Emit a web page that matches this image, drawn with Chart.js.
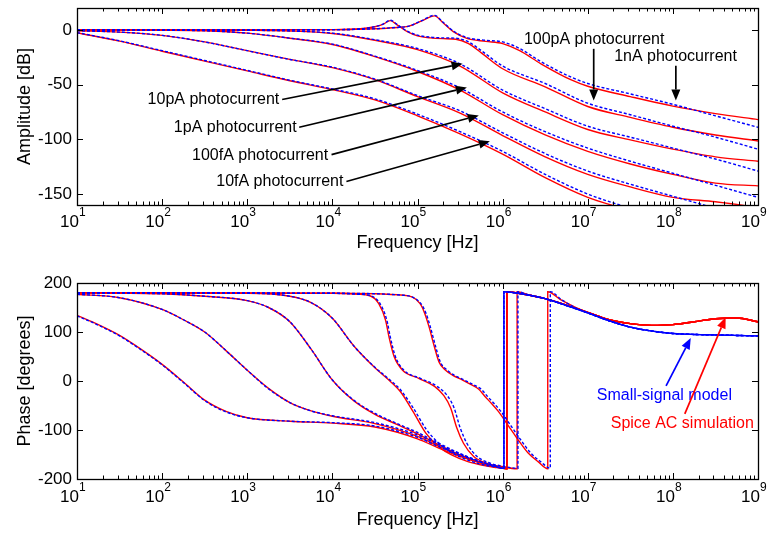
<!DOCTYPE html>
<html>
<head>
<meta charset="utf-8">
<script src="https://cdn.jsdelivr.net/npm/chart.js@4.4.1/dist/chart.umd.min.js"></script>
<style>
  html, body { margin: 0; padding: 0; background: #fff; }
  #wrap { position: relative; width: 772px; height: 534px; overflow: hidden; }
  #wrap canvas { position: absolute; left: 0; }
  #ampCanvas { top: 0; }
  #phaseCanvas { top: 262px; }
</style>
</head>
<body>
<div id="wrap">
  <canvas id="ampCanvas" width="772" height="262"></canvas>
  <canvas id="phaseCanvas" width="772" height="272"></canvas>
</div>
<script>
const FONT = '"Liberation Sans", Arial, Helvetica, sans-serif';
const RED = '#ff0000';
const BLUE = '#0000ff';

// frequency decades (exponents of 10) used for the x tick labels
const decades = [1, 2, 3, 4, 5, 6, 7, 8, 9];
const ampTicks = [0, -50, -100, -150];
const phaseTicks = [200, 100, 0, -100, -200];

// ---------------- amplitude [dB] ----------------
// frequencies are given as log10(Hz)
const hzLow = [1, 1.5, 2, 2.5, 3, 3.5, 4, 4.5, 5, 5.5, 6, 6.5, 7, 7.5, 8, 8.5, 9];

const amp10fA_model = [-2.5, -10, -19, -28, -37, -46, -54, -63, -77, -93, -111, -132, -150, -163, -175, -186, -197];
const amp10fA_spice = [-2.6, -10.3, -19.5, -28.5, -37.5, -46.5, -54.5, -64, -78.5, -95, -113.5, -135, -153, -165, -176, -185, -193];
const amp100fA_model = [-0.8, -2, -5, -11, -19, -27, -34, -45, -60, -74, -94, -113, -129, -141, -152, -163, -174];
const amp100fA_spice = [-0.8, -2, -5, -11, -19, -27, -34.5, -45.5, -61, -76, -96.5, -116, -132, -143.5, -153, -157, -162];
const amp1pA_model = [0, 0, -0.2, -0.8, -3, -7.5, -13, -24, -37, -53, -75, -93, -108, -120, -131, -142, -153];
const amp1pA_spice = [0, 0, -0.2, -0.8, -3, -7.6, -13.4, -24.5, -38, -55, -77.5, -96, -111, -122.5, -132, -140, -142.5];
const amp10pA_model = [0, 0, 0, -0.1, -0.3, -1, -3, -9, -17, -31, -55, -72, -88, -98, -108, -118, -129];
const amp10pA_spice = [0, 0, 0, -0.1, -0.3, -1, -3.3, -9.5, -18, -33, -57.5, -75, -91, -100.5, -109, -116, -120];

const hz100pA = [1, 3, 4, 4.3, 4.5, 4.6, 4.68, 4.76, 4.88, 5.0, 5.15, 5.3, 5.45, 5.6, 5.75, 6.0, 6.5, 7, 7.5, 8, 8.5, 9];
const amp100pA_model = [0, 0, 0.2, 0.8, 3, 5.5, 8.8, 5, -1.2, -4.8, -6.6, -7.3, -7.6, -11, -19, -33, -49, -67, -77.5, -88, -98, -109];
const amp100pA_spice = [0, 0, 0.2, 0.8, 2.9, 5.3, 8.5, 4.6, -1.6, -5.4, -7.3, -8, -8.5, -12.5, -21, -35.5, -52, -70, -80, -89, -96, -101.5];

const hz1nA = [1, 2, 3, 4, 4.5, 4.7, 4.9, 5.05, 5.2, 5.3, 5.42, 5.58, 5.8, 6.0, 6.2, 6.45, 6.8, 7, 7.5, 8, 8.5, 9];
const amp1nA_model = [0, 0, 0, 0.2, 1, 2, 3.5, 8.5, 13.3, 7, -1, -7, -9.5, -11, -17, -29, -43, -49, -58.5, -68, -78.5, -89];
const amp1nA_spice = [0, 0, 0, 0.2, 1, 2, 3.4, 8.2, 12.8, 6.5, -1.6, -7.8, -10.5, -12.5, -19, -31, -45.5, -51.5, -61, -69.7, -76.5, -82];

// ---------------- phase [degrees] ----------------
// common high-frequency part after the phase wraps to +180
const phTailHz = [7, 7.25, 7.5, 7.75, 8, 8.25, 8.5, 8.75, 9];
const phTail_model = [139, 123, 110, 102, 97, 95, 94, 93, 92];
const phTail_spice = [140, 125, 117, 113.5, 115, 121, 127, 128.5, 121];

const ph10fA_hzModel = [1, 1.25, 1.5, 1.75, 2, 2.25, 2.5, 2.75, 3, 3.5, 4, 4.5, 5, 5.25, 5.5, 5.75, 5.9, 6.015, 6.015, 6.25, 6.5, 6.75];
const ph10fA_hzSpice = [1, 1.25, 1.5, 1.75, 2, 2.25, 2.5, 2.75, 3, 3.5, 4, 4.5, 5, 5.25, 5.5, 5.75, 5.9, 6.05, 6.05, 6.25, 6.5, 6.75];
const ph10fA_model = [133, 114, 92, 64, 33, -3, -40, -63, -75, -82, -85, -92, -115, -134, -151, -166, -173, -178, 182, 177, 168, 154];
const ph10fA_spice = [134, 115, 93, 65, 34, -2, -39, -62, -75, -82, -86, -94, -118, -137, -154, -168, -174, -179, 182, 177, 168, 155];

const ph100fA_hzModel = [1, 1.5, 2, 2.25, 2.5, 2.75, 3, 3.25, 3.5, 3.75, 4, 4.5, 5, 5.25, 5.5, 5.75, 5.9, 6.015, 6.015, 6.25, 6.5, 6.75];
const ph100fA_hzSpice = [1, 1.5, 2, 2.25, 2.5, 2.75, 3, 3.25, 3.5, 3.75, 4, 4.5, 5, 5.25, 5.5, 5.75, 5.9, 6.05, 6.05, 6.25, 6.5, 6.75];
const ph100fA_model = [177, 170, 146, 125, 100, 62, 22, -16, -44, -61, -71, -85, -110, -130, -149, -165, -173, -178, 182, 177, 168, 154];
const ph100fA_spice = [177, 170, 146, 125, 100, 62, 22, -15, -44, -61, -72, -87, -113, -133, -152, -167, -174, -179, 182, 177, 168, 155];

const ph1pA_hzModel = [1, 2, 2.5, 3, 3.25, 3.5, 3.75, 4, 4.25, 4.5, 4.75, 5, 5.25, 5.5, 5.75, 5.9, 6.015, 6.015, 6.25, 6.5, 6.75];
const ph1pA_hzSpice = [1, 2, 2.5, 3, 3.25, 3.5, 3.75, 4, 4.25, 4.5, 4.75, 5, 5.25, 5.5, 5.75, 5.9, 6.05, 6.05, 6.25, 6.5, 6.75];
const ph1pA_model = [180, 178, 173, 164, 150, 121, 65, 2, -39, -66, -86, -105, -127, -148, -165, -173, -178, 182, 177, 168, 154];
const ph1pA_spice = [180, 178, 173, 164, 150, 121, 65, 2, -40, -68, -88, -108, -130, -151, -167, -174, -179, 182, 177, 168, 155];

const ph10pA_hzModel = [1, 3, 3.5, 3.75, 4, 4.25, 4.5, 4.65, 4.8, 4.95, 5.1, 5.25, 5.4, 5.6, 5.8, 5.9, 6.015, 6.015, 6.25, 6.5, 6.75];
const ph10pA_hzSpice = [1, 3, 3.5, 3.75, 4, 4.25, 4.5, 4.65, 4.8, 4.95, 5.1, 5.25, 5.4, 5.6, 5.8, 5.9, 6.05, 6.05, 6.25, 6.5, 6.75];
const ph10pA_model = [180, 179, 173, 160, 128, 72, 28, 6, -18, -55, -98, -127, -146, -162, -172, -175, -178, 182, 177, 168, 154];
const ph10pA_spice = [180, 179, 173, 160, 128, 72, 27, 4, -22, -63, -107, -134, -151, -165, -173, -176, -179, 182, 177, 168, 155];

const ph100pA_hzModel = [1, 4, 4.3, 4.45, 4.56, 4.64, 4.68, 4.74, 4.84, 5.04, 5.23, 5.35, 5.43, 5.5, 5.58, 5.7, 5.86, 6.0, 6.18, 6.18, 6.3, 6.5, 6.75];
const ph100pA_hzSpice = [1, 4, 4.3, 4.44, 4.545, 4.625, 4.665, 4.725, 4.825, 5.02, 5.2, 5.31, 5.39, 5.46, 5.54, 5.66, 5.82, 6.0, 6.17, 6.17, 6.3, 6.5, 6.75];
const ph100pA_model = [180, 179, 177, 174, 158, 124, 90, 50, 22, 5, -11, -30, -55, -95, -127, -154, -168, -174, -178, 182, 176, 168, 154];
const ph100pA_spice = [180, 179, 177, 174, 158, 124, 90, 50, 22, 5, -11, -30, -55, -95, -127, -154, -168, -175, -179, 182, 176, 168, 155];

const ph1nA_hzModel = [1, 4, 4.84, 5.04, 5.1, 5.15, 5.21, 5.27, 5.35, 5.43, 5.55, 5.65, 5.75, 5.82, 5.9, 5.98, 6.1, 6.2, 6.33, 6.45, 6.56, 6.56, 6.7, 6.85];
const ph1nA_hzSpice = [1, 4, 4.84, 5.03, 5.085, 5.135, 5.195, 5.255, 5.33, 5.41, 5.53, 5.625, 5.72, 5.79, 5.87, 5.95, 6.07, 6.17, 6.3, 6.42, 6.53, 6.53, 6.68, 6.85];
const ph1nA_model = [180, 179, 175, 158, 138, 111, 72, 38, 22, 12, 2, -7, -17, -31, -46, -62, -92, -117, -147, -165, -178, 182, 165, 150];
const ph1nA_spice = [180, 179, 175, 158, 138, 111, 72, 38, 22, 12, 2, -7, -17, -31, -46, -62, -92, -117, -147, -165, -179, 182, 166, 151];

// ---------------- annotations (log10 Hz, axis value) ----------------
const ampNotes = [
  { text: '10pA photocurrent', pos: [3.376, -63.6], align: 'right', from: [3.41, -63.6], to: [5.53, -30.9] },
  { text: '1pA photocurrent', pos: [3.58, -89], align: 'right', from: [3.61, -89], to: [5.58, -52.7] },
  { text: '100fA photocurrent', pos: [3.95, -114.5], align: 'right', from: [3.99, -114], to: [5.72, -78.2] },
  { text: '10fA photocurrent', pos: [4.13, -139], align: 'right', from: [4.165, -138.5], to: [5.85, -101.8] },
  { text: '100pA photocurrent', pos: [6.25, -9.1], align: 'left', from: [7.07, -17.3], to: [7.07, -64.5] },
  { text: '1nA photocurrent', pos: [7.31, -24.5], align: 'left', from: [8.035, -32.7], to: [8.035, -64.5] }
];
const phaseNotes = [
  { text: 'Small-signal model', color: BLUE, pos: [7.106, -30.5], align: 'left', from: [7.92, -10], to: [8.21, 87.6] },
  { text: 'Spice AC simulation', color: RED, pos: [7.27, -87.6], align: 'left', from: [8.14, -67], to: [8.62, 130] }
];

function toPoints(hz, vals) {
  return hz.map((e, i) => ({ x: Math.pow(10, e), y: vals[i] }));
}

function curve(hz, vals, color) {
  return {
    data: toPoints(hz, vals),
    borderColor: color,
    borderWidth: 1.4,
    borderDash: color === BLUE ? [3, 2] : [],
    pointRadius: 0,
    fill: false,
    cubicInterpolationMode: 'monotone'
  };
}

function drawArrow(ctx, x1, y1, x2, y2, color) {
  const ang = Math.atan2(y2 - y1, x2 - x1);
  const hl = 11, hw = 4.5;
  const bx = x2 - hl * Math.cos(ang), by = y2 - hl * Math.sin(ang);
  ctx.strokeStyle = color;
  ctx.fillStyle = color;
  ctx.lineWidth = 1.7;
  ctx.beginPath();
  ctx.moveTo(x1, y1);
  ctx.lineTo(bx, by);
  ctx.stroke();
  ctx.beginPath();
  ctx.moveTo(x2, y2);
  ctx.lineTo(bx + hw * Math.sin(ang), by - hw * Math.cos(ang));
  ctx.lineTo(bx - hw * Math.sin(ang), by + hw * Math.cos(ang));
  ctx.closePath();
  ctx.fill();
}

// box, inward ticks, labels and notes drawn on top of the plot
function makeFrame(cfg) {
  return {
    id: 'frame',
    afterDraw(chart) {
      const { ctx, chartArea: a } = chart;
      const xs = chart.scales.x, ys = chart.scales.y;
      const X = e => xs.getPixelForValue(Math.pow(10, e));
      const Y = v => ys.getPixelForValue(v);
      ctx.save();
      ctx.strokeStyle = '#000';
      ctx.fillStyle = '#000';
      ctx.lineWidth = 1;

      ctx.beginPath();
      for (let d = 1; d <= 9; d++) {
        const last = d < 9 ? 9 : 1;
        for (let k = 1; k <= last; k++) {
          const px = Math.round(xs.getPixelForValue(k * Math.pow(10, d))) + 0.5;
          const len = k === 1 ? 6 : 3.5;
          ctx.moveTo(px, a.bottom); ctx.lineTo(px, a.bottom - len);
          ctx.moveTo(px, a.top); ctx.lineTo(px, a.top + len);
        }
      }
      cfg.yTicks.forEach(v => {
        const py = Math.round(Y(v)) + 0.5;
        ctx.moveTo(a.left, py); ctx.lineTo(a.left + 6, py);
        ctx.moveTo(a.right, py); ctx.lineTo(a.right - 6, py);
      });
      ctx.stroke();

      ctx.lineWidth = 1.3;
      ctx.strokeRect(Math.round(a.left) + 0.5, Math.round(a.top) + 0.5,
        Math.round(a.right - a.left), Math.round(a.bottom - a.top));

      ctx.textBaseline = 'middle';
      ctx.font = `17px ${FONT}`;
      ctx.textAlign = 'right';
      cfg.yTicks.forEach(v => ctx.fillText(String(v), a.left - 5, Y(v)));

      decades.forEach(d => {
        const px = X(d);
        ctx.font = `17px ${FONT}`;
        ctx.textAlign = 'right';
        ctx.fillText('10', px + 2, a.bottom + cfg.xLabelDy);
        ctx.font = `12px ${FONT}`;
        ctx.textAlign = 'left';
        ctx.fillText(String(d), px + 2, a.bottom + cfg.xLabelDy - 9);
      });

      ctx.font = `18px ${FONT}`;
      ctx.textAlign = 'center';
      ctx.fillText('Frequency [Hz]', (a.left + a.right) / 2, a.bottom + cfg.xTitleDy);
      ctx.save();
      ctx.translate(25, (a.top + a.bottom) / 2);
      ctx.rotate(-Math.PI / 2);
      ctx.fillText(cfg.yTitle, 0, 0);
      ctx.restore();

      cfg.notes.forEach(n => {
        const color = n.color || '#000';
        ctx.font = `16px ${FONT}`;
        ctx.fillStyle = color;
        ctx.textAlign = n.align;
        ctx.fillText(n.text, X(n.pos[0]), Y(n.pos[1]));
        drawArrow(ctx, X(n.from[0]), Y(n.from[1]), X(n.to[0]), Y(n.to[1]), color);
      });
      ctx.restore();
    }
  };
}

function makeChart(canvasId, datasets, yMin, yMax, padding, frameCfg) {
  return new Chart(document.getElementById(canvasId), {
    type: 'line',
    data: { datasets },
    options: {
      responsive: false,
      animation: false,
      events: [],
      layout: { padding, autoPadding: false },
      plugins: { legend: { display: false }, tooltip: { enabled: false } },
      scales: {
        x: { type: 'logarithmic', min: 10, max: 1e9, display: false },
        y: { type: 'linear', min: yMin, max: yMax, display: false }
      }
    },
    plugins: [makeFrame(frameCfg)]
  });
}

// model curves listed first so the dashed lines sit on top of the Spice ones
const ampSets = [
  curve(hz1nA, amp1nA_model, BLUE),
  curve(hz100pA, amp100pA_model, BLUE),
  curve(hzLow, amp10pA_model, BLUE),
  curve(hzLow, amp1pA_model, BLUE),
  curve(hzLow, amp100fA_model, BLUE),
  curve(hzLow, amp10fA_model, BLUE),
  curve(hz1nA, amp1nA_spice, RED),
  curve(hz100pA, amp100pA_spice, RED),
  curve(hzLow, amp10pA_spice, RED),
  curve(hzLow, amp1pA_spice, RED),
  curve(hzLow, amp100fA_spice, RED),
  curve(hzLow, amp10fA_spice, RED)
];

const withTail = (hz, vals, tail) => [hz.concat(phTailHz), vals.concat(tail)];
const phaseModel = [
  withTail(ph1nA_hzModel, ph1nA_model, phTail_model),
  withTail(ph100pA_hzModel, ph100pA_model, phTail_model),
  withTail(ph10pA_hzModel, ph10pA_model, phTail_model),
  withTail(ph1pA_hzModel, ph1pA_model, phTail_model),
  withTail(ph100fA_hzModel, ph100fA_model, phTail_model),
  withTail(ph10fA_hzModel, ph10fA_model, phTail_model)
];
const phaseSpice = [
  withTail(ph1nA_hzSpice, ph1nA_spice, phTail_spice),
  withTail(ph100pA_hzSpice, ph100pA_spice, phTail_spice),
  withTail(ph10pA_hzSpice, ph10pA_spice, phTail_spice),
  withTail(ph1pA_hzSpice, ph1pA_spice, phTail_spice),
  withTail(ph100fA_hzSpice, ph100fA_spice, phTail_spice),
  withTail(ph10fA_hzSpice, ph10fA_spice, phTail_spice)
];
const phaseSets = phaseModel.map(p => curve(p[0], p[1], BLUE))
  .concat(phaseSpice.map(p => curve(p[0], p[1], RED)));

makeChart('ampCanvas', ampSets, -160, 20,
  { left: 77, right: 14, top: 8, bottom: 57 },
  { yTicks: ampTicks, yTitle: 'Amplitude [dB]', notes: ampNotes, xLabelDy: 17, xTitleDy: 38 });

makeChart('phaseCanvas', phaseSets, -200, 200,
  { left: 77, right: 14, top: 21, bottom: 55 },
  { yTicks: phaseTicks, yTitle: 'Phase [degrees]', notes: phaseNotes, xLabelDy: 18, xTitleDy: 41 });
</script>
</body>
</html>
